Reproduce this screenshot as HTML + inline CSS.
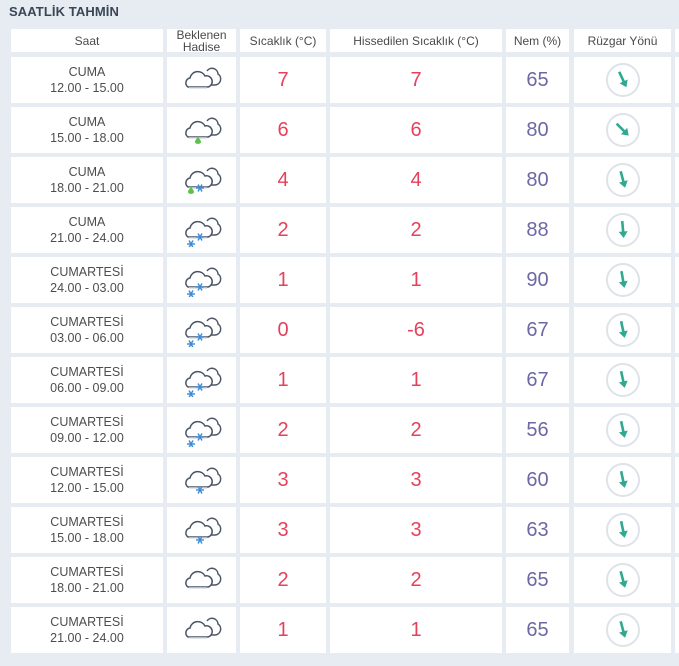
<!DOCTYPE html>
<html><head><meta charset="utf-8"><style>
body{margin:0;width:679px;height:666px;background:#e6ecf1;font-family:"Liberation Sans","DejaVu Sans",sans-serif;overflow:hidden;position:relative}
#title{position:absolute;left:9px;top:4px;font-size:13px;font-weight:bold;color:#3a4656;letter-spacing:0.1px}
.c{position:absolute;background:#fff;display:flex;align-items:center;justify-content:center;text-align:center;color:#444}
.h{font-size:12px;color:#4a4a4a;line-height:12px}
.saat{font-size:12.5px;line-height:16px;color:#4d4d4d}
.red{font-size:20px;color:#e6415b}
.pur{font-size:20px;color:#6d68a3}
</style></head><body>
<div id="title">SAATLİK TAHMİN</div>
<div id="tbl"></div>
<script>
const days=["CUMA","CUMA","CUMA","CUMA","CUMARTESİ","CUMARTESİ","CUMARTESİ","CUMARTESİ","CUMARTESİ","CUMARTESİ","CUMARTESİ","CUMARTESİ"];
const times=["12.00 - 15.00","15.00 - 18.00","18.00 - 21.00","21.00 - 24.00","24.00 - 03.00","03.00 - 06.00","06.00 - 09.00","09.00 - 12.00","12.00 - 15.00","15.00 - 18.00","18.00 - 21.00","21.00 - 24.00"];
const temps=[7,6,4,2,1,0,1,2,3,3,2,1];
const feels=[7,6,4,2,1,-6,1,2,3,3,2,1];
const humidity=[65,80,80,88,90,67,67,56,60,63,65,65];
const windDir=[25,45,15,5,10,12,12,12,12,12,15,15];
const weather=["cloud","rain","rainsnow","snow2","snow2","snow2","snow2","snow2","snow1","snow1","cloud","cloud"];
const headers=["Saat","Beklenen<br>Hadise","Sıcaklık (°C)","Hissedilen Sıcaklık (°C)","Nem (%)","Rüzgar Yönü",""];
const cols=[[11,152],[167,69],[240,86],[330,172],[506,63],[574,97],[675,10]];
const T=document.getElementById('tbl');
function cell(x,y,w,h,html,cls){const d=document.createElement('div');d.className='c '+(cls||'');d.style.left=x+'px';d.style.top=y+'px';d.style.width=w+'px';d.style.height=h+'px';d.innerHTML=html;T.appendChild(d);return d;}
function snow(x,y){let s='';for(let a=0;a<3;a++){const r=a*Math.PI/3;s+=`<line x1="${x-4*Math.cos(r)}" y1="${y-4*Math.sin(r)}" x2="${x+4*Math.cos(r)}" y2="${y+4*Math.sin(r)}" stroke="#3a8ad6" stroke-width="1.4"/>`;}return s;}
function drop(x,y){return `<path d="M${x} ${y} C${x-1} ${y+3} ${x-3} ${y+4} ${x-3} ${y+6} C${x-3} ${y+8.5} ${x+3} ${y+8.5} ${x+3} ${y+6} C${x+3} ${y+4} ${x+1} ${y+3} ${x} ${y}z" fill="#5cc24a"/>`;}
function icon(t){
 let s='<svg width="44" height="34" viewBox="0 0 44 34">';
 s+='<path d="M27 8 a6 6 0 0 1 11 3 a6 6 0 0 1 -3 11 h-8" fill="#fff" stroke="#4a5566" stroke-width="1.5"/>';
 s+='<path d="M8 24 a5 5 0 0 1 2 -9 a8 8 0 0 1 15 -2 a5.5 5.5 0 0 1 3 11 z" fill="#fff" stroke="#4a5566" stroke-width="1.5"/>';
 s+='<path d="M9 25 h18" stroke="#d8dde3" stroke-width="1.5"/>';
 if(t=='rain')s+=drop(18,23);
 if(t=='rainsnow'){s+=drop(11,23)+snow(20,25);}
 if(t=='snow2')s+=snow(20,24)+snow(11,31);
 if(t=='snow1')s+=snow(20,27);
 return s+'</svg>';}
function arrow(a){return `<svg width="36" height="36" viewBox="0 0 36 36"><circle cx="18" cy="18" r="16" fill="none" stroke="#dde3e8" stroke-width="2"/><g transform="rotate(${-a} 18 18)"><line x1="18" y1="9" x2="18" y2="21" stroke="#2fa98f" stroke-width="2.6"/><polygon points="13.5,19.5 22.5,19.5 18,26" fill="#2fa98f"/></g></svg>`;}
headers.forEach((h,i)=>{const d=cell(cols[i][0],29,cols[i][1],23,h,'h');

});
days.forEach((day,r)=>{const y=57+50*r,h=46;
 let d=cell(cols[0][0],y,cols[0][1],h,day+'<br>'+times[r],'saat');
 
 
 d=cell(cols[1][0],y,cols[1][1],h,icon(weather[r]));
 
 
 d=cell(cols[2][0],y,cols[2][1],h,temps[r],'red');
 
 
 d=cell(cols[3][0],y,cols[3][1],h,feels[r],'red');
 
 
 d=cell(cols[4][0],y,cols[4][1],h,humidity[r],'pur');
 
 
 d=cell(cols[5][0],y,cols[5][1],h,arrow(windDir[r]));
 
 
 d=cell(cols[6][0],y,cols[6][1],h,'');
 
 
});
</script>
</body></html>
